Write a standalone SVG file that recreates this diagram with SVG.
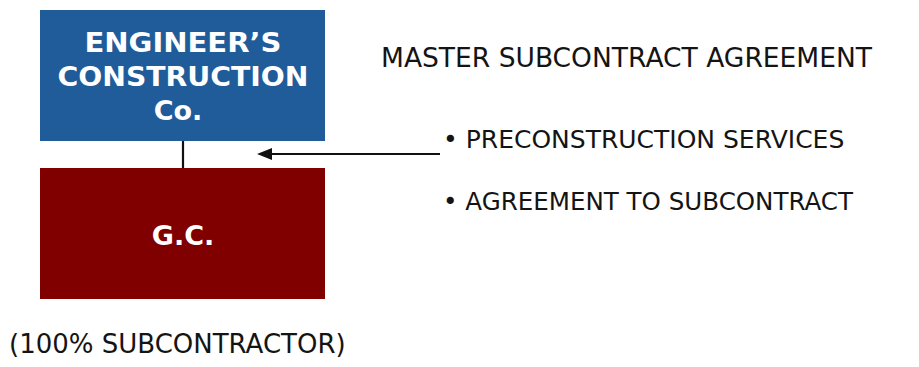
<svg xmlns="http://www.w3.org/2000/svg" width="919" height="367" viewBox="0 0 919 367">
<style>
.box-t{font-family:"DejaVu Sans",Verdana,sans-serif;font-weight:bold;fill:#ffffff;text-anchor:middle;font-size:27px}
.t{font-family:"DejaVu Sans",Verdana,sans-serif;fill:#141414;font-size:25px}
.conn{stroke:#111;stroke-width:2.2;fill:none}
.head{fill:#111}
</style>
<rect width="919" height="367" fill="#ffffff"/>
<g id="engineer">
<rect x="40" y="10" width="285" height="131" fill="#1f5c99"/>
<text class="box-t" x="183" y="52" textLength="197" lengthAdjust="spacingAndGlyphs">ENGINEER’S</text>
<text class="box-t" x="183" y="86" textLength="251" lengthAdjust="spacingAndGlyphs">CONSTRUCTION</text>
<text class="box-t" x="178" y="120">Co.</text>
</g>
<g id="gc">
<rect x="40" y="168" width="285" height="131" fill="#800000"/>
<text class="box-t" x="183" y="245">G.C.</text>
</g>
<g id="connectors">
<line class="conn" x1="183" y1="141" x2="183" y2="168"/>
<line class="conn" x1="440" y1="154" x2="268" y2="154"/>
<polygon class="head" points="257,154 272,148 272,160"/>
</g>
<g id="master">
<text class="t" x="381" y="67" style="font-size:26.5px" textLength="491" lengthAdjust="spacingAndGlyphs">MASTER SUBCONTRACT AGREEMENT</text>
</g>
<g id="bullets">
<text class="t" x="443" y="148">• PRECONSTRUCTION SERVICES</text>
<text class="t" x="443" y="210" textLength="410" lengthAdjust="spacingAndGlyphs">• AGREEMENT TO SUBCONTRACT</text>
</g>
<g id="note">
<text class="t" x="9" y="353" style="font-size:26px">(100% SUBCONTRACTOR)</text>
</g>
</svg>
